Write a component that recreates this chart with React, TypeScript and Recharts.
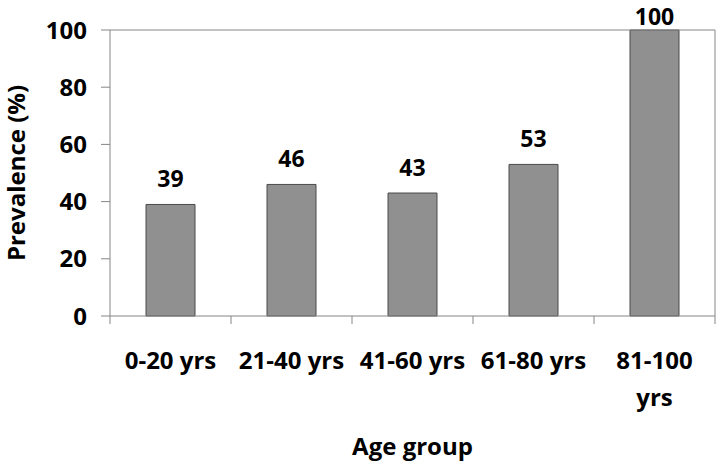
import { BarChart, Bar, XAxis, YAxis, ReferenceLine, LabelList } from "recharts";

const ageGroups = ["0-20 yrs", "21-40 yrs", "41-60 yrs", "61-80 yrs", "81-100 yrs"];
const prevalence = [39, 46, 43, 53, 100];
// how the category names wrap under the axis
const tickLabelLines = [["0-20 yrs"], ["21-40 yrs"], ["41-60 yrs"], ["61-80 yrs"], ["81-100", "yrs"]];
const yTicks = [0, 20, 40, 60, 80, 100];

const W = 720;
const H = 466;
const AXIS_W = 110;
const RIGHT = 5;
const TOP = 30;
const X_AXIS_H = 150;
const band = (W - AXIS_W - RIGHT) / ageGroups.length;
const FONT = '"Open Sans", sans-serif';
const LINE = "#868686";

const data = ageGroups.map((group, i) => ({ group, value: prevalence[i] }));

function AgeTick(props: any) {
  const { x, y, index, payload } = props;
  const lines = tickLabelLines[index] ?? [payload.value];
  const last = index === ageGroups.length - 1;
  return (
    <g>
      <line x1={x - band / 2} x2={x - band / 2} y1={y} y2={y + 8} stroke={LINE} />
      {last && <line x1={x + band / 2} x2={x + band / 2} y1={y} y2={y + 8} stroke={LINE} />}
      <text x={x} y={y + 53} textAnchor="middle" fontFamily={FONT} fontWeight={700} fontSize={24} fill="#000">
        {lines.map((l: string, i: number) => (
          <tspan key={i} x={x} dy={i === 0 ? 0 : 37}>
            {l}
          </tspan>
        ))}
      </text>
    </g>
  );
}

function ValueLabel(props: any) {
  const { x, y, width, value } = props;
  // Excel pushes the label inside the chart when there is no room above the bar
  const baseline = Math.max(y - 17, 25);
  return (
    <text x={x + width / 2} y={baseline} textAnchor="middle" fontFamily={FONT} fontWeight={700} fontSize={23} fill="#000">
      {value}
    </text>
  );
}

function YTitle(props: any) {
  const vb = props.viewBox;
  const cy = vb.y + vb.height / 2;
  return (
    <text x={25} y={cy} transform={`rotate(-90, 25, ${cy})`} textAnchor="middle" fontFamily={FONT} fontWeight={700} fontSize={24} fill="#000">
      Prevalence (%)
    </text>
  );
}

export default function App() {
  return (
    <div style={{ position: "absolute", left: 0, top: 0, width: W, height: H, background: "#fff" }}>
      <BarChart width={W} height={H} data={data} margin={{ top: TOP, right: 0, left: 0, bottom: 0 }} barSize={49}>
        <XAxis
          dataKey="group"
          height={X_AXIS_H}
          interval={0}
          tickSize={0}
          tickMargin={0}
          tick={<AgeTick />}
          axisLine={{ stroke: LINE }}
          label={{ value: "Age group", position: "insideBottom", offset: 11, fontFamily: FONT, fontWeight: 700, fontSize: 24, fill: "#000" }}
        />
        <YAxis
          yAxisId="left"
          width={AXIS_W}
          domain={[0, 100]}
          ticks={yTicks}
          tickSize={9}
          tickMargin={14}
          axisLine={{ stroke: LINE }}
          tickLine={{ stroke: LINE }}
          tick={{ fontFamily: FONT, fontWeight: 700, fontSize: 24, fill: "#000" }}
          label={{ content: <YTitle /> }}
        />
        <YAxis yAxisId="right" orientation="right" width={RIGHT} tick={false} tickLine={false} axisLine={{ stroke: LINE }} />
        <ReferenceLine yAxisId="left" y={100} stroke={LINE} />
        <Bar yAxisId="left" dataKey="value" fill="#909090" stroke="#4a4a4a" strokeWidth={1} isAnimationActive={false}>
          <LabelList dataKey="value" content={<ValueLabel />} />
        </Bar>
      </BarChart>
    </div>
  );
}
